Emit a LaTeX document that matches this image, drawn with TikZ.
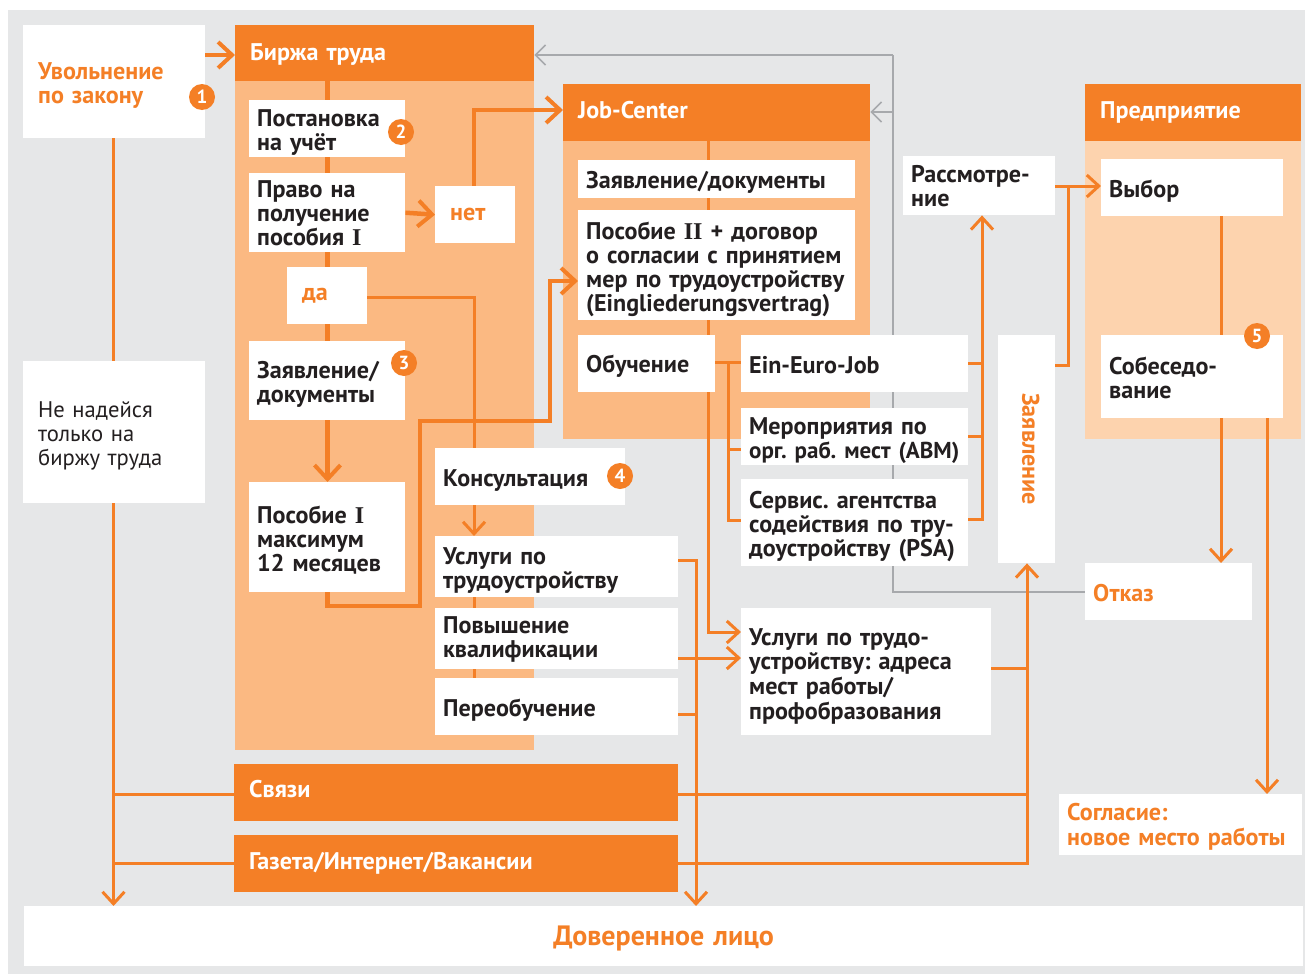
\documentclass[tikz,border=0pt]{standalone}
\usepackage{fontspec}
\setmainfont{PT Sans}[WordSpace=0.5]
\newfontfamily\serifpart{Liberation Serif}
\usetikzlibrary{arrows.meta,backgrounds}
\definecolor{orangemain}{HTML}{F47F26}
\definecolor{peachdark}{HTML}{FBB982}
\definecolor{peachlight}{HTML}{FDD3AE}
\definecolor{greyback}{HTML}{E6E7E8}
\definecolor{greyline}{HTML}{A7A9AC}
\definecolor{inktext}{HTML}{231F20}
\newcommand{\romI}[1]{{\serifpart\bfseries #1}}
\newcommand{\lines}[2]{\raisebox{-#1pt}[\height][\depth]{\begin{tabular}{@{}l@{}}#2\end{tabular}}}
\frenchspacing
\tikzset{
	card/.style n args={2}{fill=white,anchor=north west,inner xsep=8pt,inner ysep=0pt,minimum height=#2,text width=#1-16pt,align=left,text=inktext,font=\frenchspacing\bfseries\fontsize{24.1}{24}\selectfont},
	accent/.style={text=orangemain},
	head/.style n args={2}{card={#1}{#2},fill=orangemain,text=white,inner xsep=15pt,text width=#1-30pt},
	panel/.style n args={3}{fill=#3,anchor=north west,inner sep=0pt,minimum width=#1,minimum height=#2},
	badge/.style={circle,fill=orangemain,text=white,inner sep=0pt,minimum size=26pt,font=\bfseries\fontsize{19}{20}\selectfont},
	thickflow/.style={draw=orangemain,line width=4.5pt,-{Straight Barb[length=14pt,width=26pt,line width=4pt]}},
	thickline/.style={draw=orangemain,line width=4.5pt},
	flow/.style={draw=orangemain,line width=3pt,-{Straight Barb[length=12pt,width=22pt,line width=3pt]}},
	line/.style={draw=orangemain,line width=3pt},
	greyflow/.style={draw=greyline,line width=2pt,-{Straight Barb[length=10pt,width=20pt,line width=1.6pt]}},
}
\begin{document}
\begin{tikzpicture}[x=1pt,y=-1pt,line join=miter]
	\useasboundingbox (0,0) rectangle (1305,974);
	%Biржа column
	\node[head={299}{56}] (birzha) at (235,25) {\lines{2}{Биржа труда}};
	\node[card={156}{57}] (uchet) at (249,100) {\lines{5}{Постановка\\на учёт}};
	\node[card={156}{79}] (pravo) at (249,173) {\lines{4}{Право на\\получение\\пособия \romI{I}}};
	\node[card={80}{57},inner xsep=15pt,text width=50pt,accent] (net) at (435,186) {\lines{1}{нет}};
	\node[card={80}{57},inner xsep=15pt,text width=50pt,accent] (da) at (287,267) {\lines{0}{да}};
	\node[card={156}{79}] (zayav) at (249,341) {\lines{5}{Заявление/\\документы}};
	\node[card={156}{110}] (posobie) at (249,482) {\lines{5}{Пособие \romI{I}\\максимум\\12 месяцев}};
	\node[card={190}{57}] (konsult) at (435,448) {\lines{5}{Консультация}};
	\node[card={243}{61}] (uslugi) at (435,536) {\lines{5}{Услуги по\\трудоустройству}};
	\node[card={243}{61}] (povysh) at (435,608) {\lines{2}{Повышение\\квалификации}};
	\node[card={243}{57}] (pereob) at (435,678) {\lines{5}{Переобучение}};
	%Left column
	\node[card={182}{113},inner xsep=15pt,text width=152pt,accent] (uvol) at (23,25) {\lines{5}{Увольнение\\по закону}};
	\node[card={182}{142},inner xsep=15pt,text width=152pt,font=\frenchspacing\fontsize{22.6}{24}\selectfont] (nenad) at (23,361) {\lines{4}{Не надейся\\только на\\биржу труда}};
	%Job-Center
	\node[head={307}{57}] (jobc) at (563,84) {\lines{1}{Job-Center}};
	\node[card={277}{38}] (zaydoc) at (578,160) {\lines{4}{Заявление/документы}};
	\node[card={277}{110}] (dogovor) at (578,210) {\lines{5}{Пособие \romI{II} + договор\\о согласии с принятием\\мер по трудоустройству\\(Eingliederungsvertrag)}};
	\node[card={137}{57}] (obuch) at (578,335) {\lines{4}{Обучение}};
	\node[card={227}{57}] (euro) at (741,335) {\lines{5}{Ein-Euro-Job}};
	\node[card={227}{57}] (abm) at (741,408) {\lines{5}{Мероприятия по\\\fontsize{23}{24}\selectfont орг. раб. мест (ABM)}};
	\node[card={227}{87}] (psa) at (741,479) {\lines{5}{Сервис. агентства\\содействия по тру-\\доустройству (PSA)}};
	\node[card={250}{127}] (adresa) at (741,608) {\lines{6}{Услуги по трудо-\\устройству: адреса\\мест работы/\\профобразования}};
	%Enterprise
	\node[card={152}{59}] (rassm) at (903,156) {\lines{4}{Рассмотре-\\ние}};
	\node[card={57}{228},inner xsep=0pt,text width=57pt,align=center,accent] (zaykol) at (998,335) {\hspace*{8pt}\rotatebox{-90}{Заявление}};
	\node[head={216}{57}] (pred) at (1085,84) {\lines{1}{Предприятие}};
	\node[card={182}{57}] (vybor) at (1101,159) {\lines{5}{Выбор}};
	\node[card={182}{83}] (sobes) at (1101,335) {\lines{5}{Собеседо-\\вание}};
	\node[card={167}{57},accent] (otkaz) at (1085,563) {\lines{5}{Отказ}};
	\node[card={243}{61},accent] (soglas) at (1059,794) {\lines{3}{Согласие:\\новое место работы}};
	%Bars
	\node[head={444}{57}] (svyazi) at (234,764) {\lines{0}{Связи}};
	\node[head={444}{57}] (gazeta) at (234,835) {\lines{1}{Газета/Интернет/Вакансии}};
	\node[card={1279}{60},text width=1263pt,align=center,accent,font=\frenchspacing\bfseries\fontsize{28}{28}\selectfont] (dover) at (24,906) {\lines{4}{Доверенное лицо}};
	%Badges
	\node[badge] (b1) at (202,97) {1};
	\node[badge] (b2) at (401,132) {2};
	\node[badge] (b3) at (404,363) {3};
	\node[badge] (b4) at (620,476) {4};
	\node[badge] (b5) at (1257,336) {5};
	%Fixed runs
	\coordinate (runA) at (327.5,0);
	\coordinate (runB) at (474,0);
	\coordinate (runC) at (708.5,0);
	\coordinate (runD) at (728,0);
	\coordinate (runE) at (982,0);
	\coordinate (runF) at (1068,0);
	\coordinate (runG) at (696,0);
	\coordinate (runH) at (1027,0);
	\coordinate (runJ) at (1221,0);
	\coordinate (runK) at (1267,0);
	\coordinate (runL) at (113.5,0);
	\coordinate (runM) at (893,0);
	\begin{scope}[on background layer]
		\fill[white] (0,0) rectangle (1305,974);
		\fill[greyback] (7.5,10) rectangle (1305,974);
		\node[panel={299}{669}{peachdark}] (birzhabody) at (235,81) {};
		\node[panel={307}{298}{peachdark}] (jobbody) at (563,141) {};
		\node[panel={216}{298}{peachlight}] (predbody) at (1085,141) {};
		%grey return lines
		\draw[greyline,line width=2pt] (otkaz.west |- 0,592) -| (runM |- 0,55);
		\draw[greyflow] (runM |- 0,55) -- (birzha.east |- 0,55);
		\draw[greyflow] (runM |- 0,112) -- (jobc.east |- 0,112);
		%left column
		\draw[line] (uvol.south -| runL) -- (nenad.north -| runL);
		\draw[flow] (nenad.south -| runL) -- (dover.north -| runL);
		\draw[line] (svyazi.west |- 0,794) -- (runL |- 0,794);
		\draw[line] (gazeta.west |- 0,863) -- (runL |- 0,863);
		\draw[thickflow] (uvol.east |- 0,55) -- (birzha.west |- 0,55);
		%birzha
		\draw[thickline] (birzha.south -| runA) -- (uchet.north -| runA);
		\draw[thickline] (uchet.south -| runA) -- (pravo.north -| runA);
		\draw[thickline] (pravo.south -| runA) -- (da.north -| runA);
		\draw[thickline] (da.south -| runA) -- (zayav.north -| runA);
		\draw[thickflow] (zayav.south -| runA) -- (posobie.north -| runA);
		\draw[thickflow] (pravo.east) -- (net.west);
		\draw[line] (da.east |- 0,297) -| (konsult.north -| runB);
		\draw[flow] (konsult.south -| runB) -- (uslugi.north -| runB);
		\draw[line] (uslugi.south -| runB) -- (povysh.north -| runB);
		\draw[line] (povysh.south -| runB) -- (pereob.north -| runB);
		\draw[thickflow] (net.north -| runB) |- (jobc.west |- 0,110);
		\draw[thickflow] (posobie.south -| runA) |- (420,606) -- (420,421) -- (550,421) |- (dogovor.west |- 0,281);
		%job-center
		\draw[line] (jobc.south -| runC) -- (zaydoc.north -| runC);
		\draw[line] (zaydoc.south -| runC) -- (dogovor.north -| runC);
		\draw[line] (dogovor.south -| runC) -- (obuch.north -| runC);
		\draw[flow] (obuch.south -| runC) |- (adresa.west |- 0,632);
		\draw[line] (obuch.east |- 0,362) -- (euro.west |- 0,362);
		\draw[line] (runD |- 0,362) |- (psa.west |- 0,520);
		\draw[line] (runD |- 0,449) -- (abm.west |- 0,449);
		\draw[line] (euro.east |- 0,363) -- (runE |- 0,363);
		\draw[line] (abm.east |- 0,436) -- (runE |- 0,436);
		\draw[flow] (psa.east |- 0,519) -| (rassm.south -| runE);
		\draw[flow] (rassm.east |- 0,186) -- (vybor.west |- 0,186);
		\draw[line] (zaykol.east |- 0,365) -| (runF |- 0,186);
		%services
		\draw[line] (uslugi.east |- 0,560) -| (runG |- 0,700);
		\draw[flow] (runG |- 0,700) -- (dover.north -| runG);
		\draw[line] (pereob.east |- 0,714) -- (runG |- 0,714);
		\draw[flow] (povysh.east |- 0,658) -- (adresa.west |- 0,658);
		\draw[line] (svyazi.east |- 0,794) -- (runH |- 0,794);
		\draw[line] (adresa.east |- 0,668) -- (runH |- 0,668);
		\draw[flow] (gazeta.east |- 0,863) -| (zaykol.south -| runH);
		%enterprise
		\draw[line] (vybor.south -| runJ) -- (sobes.north -| runJ);
		\draw[flow] (sobes.south -| runJ) -- (otkaz.north -| runJ);
		\draw[flow] (sobes.south -| runK) -- (soglas.north -| runK);
	\end{scope}
\end{tikzpicture}
\end{document}
